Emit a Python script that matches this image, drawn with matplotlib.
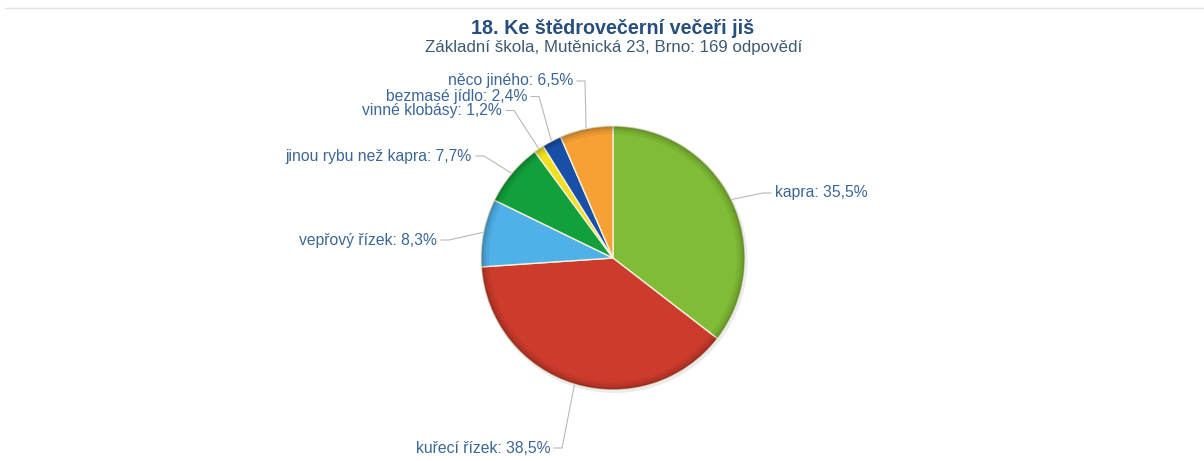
import matplotlib.pyplot as plt
from matplotlib.patches import Wedge, Circle
import numpy as np

plt.rcParams['font.family'] = ['Liberation Sans', 'DejaVu Sans']

title = "18. Ke štědrovečerní večeři jiš"
subtitle = "Základní škola, Mutěnická 23, Brno: 169 odpovědí"

labels = ["kapra", "kuřecí řízek", "vepřový řízek", "jinou rybu než kapra",
          "vinné klobásy", "bezmasé jídlo", "něco jiného"]
values = [35.5, 38.5, 8.3, 7.7, 1.2, 2.4, 6.5]
colors = ["#80bc35", "#cc3b2c", "#50b0e8", "#12a03c", "#f2e01e", "#1a4fa8", "#f7a034"]

# label placement in pixels (x of the text edge nearest the pie, y centre)
label_pos = [(775, 193), (550, 448), (437, 240), (472, 156),
             (502, 110.5), (527, 96.5), (573, 81)]

W, H = 1204, 461
cx, cy, R = 613, 258, 132


def py(y):
    return H - y


fig = plt.figure(figsize=(W / 100, H / 100), dpi=100)
ax = fig.add_axes([0, 0, 1, 1])

# faint shadow under the pie
ax.add_patch(Circle((cx + 1.5, py(cy) - 2), R + 1, color="#000000", alpha=0.08, lw=0))

wedges, _ = ax.pie(values, colors=colors, startangle=90, counterclock=False,
                   center=(cx, py(cy)), radius=R,
                   wedgeprops=dict(edgecolor="#f4f1dc", linewidth=1.0))

# darker rim, a bit of the 3d look
for w, a in [(8, 0.05), (5, 0.07), (2.5, 0.1)]:
    ax.add_patch(Wedge((cx, py(cy)), R, 0, 360, width=w, color="#000000", alpha=a, lw=0))

total = sum(values)
start = 0.0
for lab, val, (lx, ly) in zip(labels, values, label_pos):
    mid = (start + val / 2) / total * 2 * np.pi
    start += val
    ax_x = cx + (R + 1) * np.sin(mid)
    ax_y = cy - (R + 1) * np.cos(mid)
    text = f"{lab}: {val:.1f}%".replace(".", ",")
    if ax_x > cx:
        ha = "left"
        xs = [lx - 4, lx - 12, ax_x]
    else:
        ha = "right"
        xs = [lx + 4, lx + 12, ax_x]
    ax.plot(xs, [py(ly), py(ly), py(ax_y)], color="#b8b8b8", lw=0.8,
            solid_joinstyle="round")
    ax.text(lx, py(ly), text, ha=ha, va="center", fontsize=11.3, color="#3b6796")

ax.plot([5, W], [py(8.5), py(8.5)], color="#e4e4e4", lw=1)
ax.text(613, py(29), title, ha="center", va="center", fontsize=14.2,
        fontweight="bold", color="#274f7d")
ax.text(614, py(48), subtitle, ha="center", va="center", fontsize=12.2,
        color="#3e5a72")

ax.set_xlim(0, W)
ax.set_ylim(0, H)
ax.set_aspect("auto")
ax.axis("off")

fig.savefig("out.png", dpi=100)
